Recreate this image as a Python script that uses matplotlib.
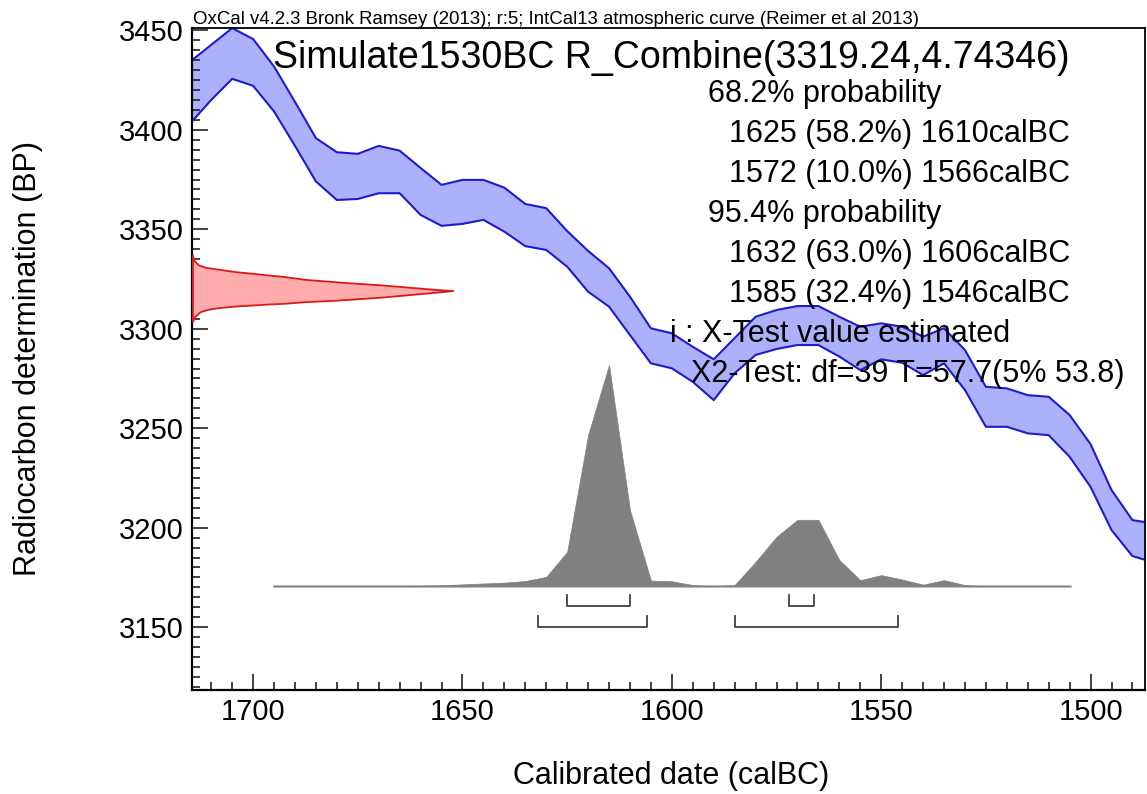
import matplotlib
matplotlib.use("Agg")
import matplotlib.pyplot as plt

plt.rcParams['font.family'] = ['Liberation Sans', 'DejaVu Sans']

# IntCal13 calibration curve band (BP), every 5 years from 1715 to 1485 calBC
curve_years = list(range(1715, 1480, -5))
curve_upper = [3434.3, 3442.7, 3451.1, 3445.6, 3431.8, 3414.0, 3395.8, 3388.7, 3387.9, 3391.9,
               3389.5, 3380.8, 3372.3, 3374.8, 3374.8, 3370.9, 3362.7, 3360.6, 3349.1, 3339.1,
               3330.4, 3316.1, 3300.2, 3297.7, 3290.9, 3284.6, 3295.3, 3306.0, 3309.4, 3311.4,
               3311.4, 3306.0, 3301.0, 3302.7, 3301.0, 3296.0, 3300.2, 3289.3, 3270.8, 3270.0,
               3266.6, 3265.8, 3256.6, 3242.0, 3218.9, 3203.8, 3202.1]
curve_lower = [3403.3, 3415.0, 3425.6, 3422.1, 3409.2, 3391.9, 3374.0, 3364.7, 3365.2, 3368.1,
               3368.1, 3357.2, 3351.7, 3352.7, 3354.7, 3348.8, 3341.5, 3339.6, 3331.2, 3318.6,
               3311.1, 3296.8, 3282.6, 3280.1, 3273.3, 3264.1, 3277.6, 3286.8, 3289.8, 3291.8,
               3291.8, 3286.0, 3279.2, 3284.6, 3282.9, 3276.7, 3282.6, 3269.2, 3250.7, 3250.7,
               3247.4, 3246.5, 3235.6, 3220.5, 3198.8, 3185.7, 3182.6]

# R_Combine(3319.24, 4.74346) radiocarbon likelihood (relative height)
r_bp = [3303.5, 3306.0, 3308.6, 3309.8, 3310.6, 3311.4, 3311.9, 3312.4, 3312.8, 3313.6,
        3314.4, 3315.8, 3317.3, 3318.5, 3319.2, 3319.6, 3320.7, 3322.1, 3323.2, 3324.8,
        3326.2, 3327.0, 3327.9, 3328.7, 3329.9, 3330.9, 3332.1, 3334.6, 3337.1]
r_prob = [0.0, 0.008, 0.03, 0.061, 0.10, 0.164, 0.228, 0.291, 0.355, 0.432,
          0.56, 0.718, 0.846, 0.948, 1.0, 0.948, 0.846, 0.718, 0.59, 0.432,
          0.355, 0.291, 0.228, 0.164, 0.10, 0.049, 0.023, 0.004, 0.0]

# calibrated date distribution (relative probability)
cal_years = list(range(1695, 1500, -5))
cal_prob = [0, 0, 0, 0, 0, 0.001, 0.001, 0.002, 0.004, 0.008,
            0.012, 0.016, 0.023, 0.042, 0.155, 0.683, 1.0, 0.344, 0.025, 0.022,
            0.005, 0.0, 0.005, 0.11, 0.223, 0.30, 0.30, 0.118, 0.027, 0.05,
            0.03, 0.007, 0.027, 0.005, 0, 0, 0, 0, 0]

ranges_68 = [(1625, 1610), (1572, 1566)]
ranges_95 = [(1632, 1606), (1585, 1546)]

header = "OxCal v4.2.3 Bronk Ramsey (2013); r:5; IntCal13 atmospheric curve (Reimer et al 2013)"
title = "Simulate1530BC R_Combine(3319.24,4.74346)"
summary = [
    ("68.2% probability", 708),
    ("1625 (58.2%) 1610calBC", 729),
    ("1572 (10.0%) 1566calBC", 729),
    ("95.4% probability", 708),
    ("1632 (63.0%) 1606calBC", 729),
    ("1585 (32.4%) 1546calBC", 729),
    ("i : X-Test value estimated", 670),
    ("X2-Test: df=39 T=57.7(5% 53.8)", 691),
]

W, H = 1147, 794
fig = plt.figure(figsize=(W / 100, H / 100), dpi=100)
ax = fig.add_axes([192.4 / W, 1 - 689.8 / H, (1145 - 192.4) / W, (689.8 - 28.3) / H])

x_left, x_right = 1714.5, 1487
ax.set_xlim(x_left, x_right)
ax.set_ylim(3118.5, 3451)

# calibration curve
ax.fill_between(curve_years, curve_lower, curve_upper, color='#adb1fb', lw=0, zorder=1)
ax.plot(curve_years, curve_upper, color='#1c1ccc', lw=1.5, zorder=2)
ax.plot(curve_years, curve_lower, color='#1c1ccc', lw=1.5, zorder=2)

# radiocarbon date on the y axis
r_span = 62.2
ax.fill_betweenx(r_bp, x_left, [x_left - p * r_span for p in r_prob],
                 facecolor='#ffacac', edgecolor='#dd1818', lw=1.3, zorder=3)

# calibrated distribution
base = 3170.6
height = 111.2
ax.fill_between(cal_years, base, [base + p * height for p in cal_prob],
                color='#808080', lw=0.5, zorder=3)
ax.plot([cal_years[0], cal_years[-1]], [base, base], color='#b4b4b4', lw=2, zorder=2)

# range brackets
for ranges, y, h in [(ranges_68, 3160.5, 5.5), (ranges_95, 3150.1, 5.5)]:
    for a, b in ranges:
        ax.plot([a, a, b, b], [y + h, y, y, y + h], color='#404040', lw=1.3, zorder=3)

ax.spines['top'].set_linewidth(1.3)
ax.spines['right'].set_linewidth(1.3)
ax.spines['left'].set_linewidth(1.6)
ax.spines['bottom'].set_linewidth(1.6)

ax.set_xticks([1700, 1650, 1600, 1550, 1500])
ax.set_xticks(range(1710, 1485, -5), minor=True)
ax.set_yticks([3150, 3200, 3250, 3300, 3350, 3400, 3450])
ax.set_yticks(range(3120, 3455, 5), minor=True)
ax.tick_params(which='both', direction='in', top=False, right=False, width=1.2, color='#222222')
ax.tick_params(which='major', length=11.5, labelsize=21)
ax.tick_params(axis='x', which='major', pad=6)
ax.tick_params(axis='y', which='major', pad=6.5)
ax.tick_params(which='minor', length=5.5)

fig.text(28 / W, 1 - 358 / H, "Radiocarbon determination (BP)", rotation=90,
         ha='center', va='center', fontsize=22)
fig.text(671 / W, 1 - 784 / H, "Calibrated date (calBC)", ha='center', va='baseline', fontsize=22)

fig.text(193 / W, 1 - 24 / H, header, ha='left', va='baseline', fontsize=13.4)
fig.text(273 / W, 1 - 68.5 / H, title, ha='left', va='baseline', fontsize=27, zorder=5)
for i, (line, x) in enumerate(summary):
    fig.text(x / W, 1 - (101.7 + 40 * i) / H, line, ha='left', va='baseline', fontsize=22, zorder=5)

fig.savefig("out.png", dpi=100)
